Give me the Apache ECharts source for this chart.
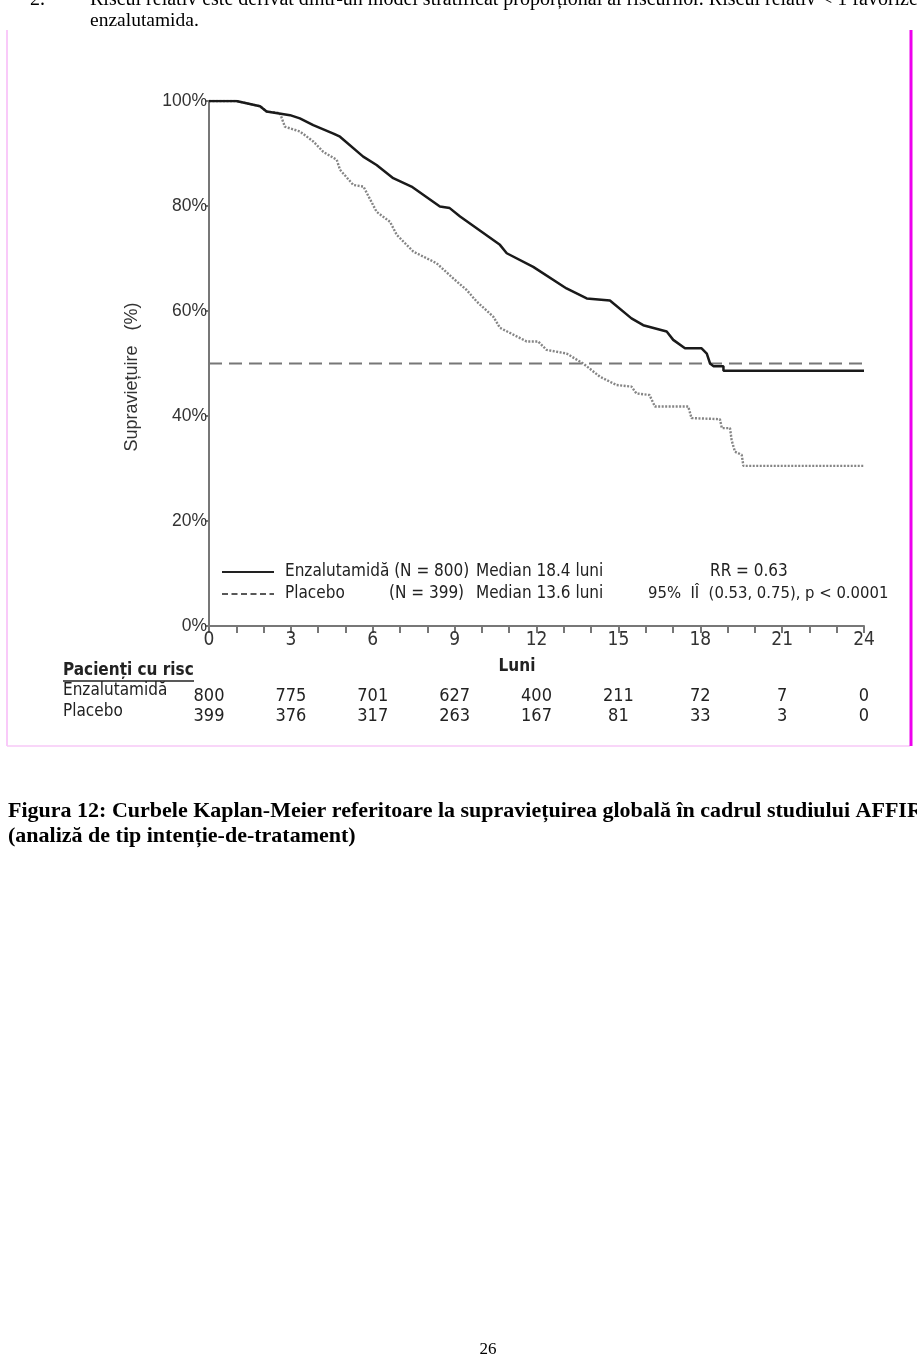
<!DOCTYPE html>
<html>
<head>
<meta charset="utf-8">
<script src="https://cdn.jsdelivr.net/npm/echarts@6/dist/echarts.min.js"></script>
<style>
  html, body { margin: 0; padding: 0; background: #fff; }
  #main { width: 917px; height: 1365px; }
</style>
</head>
<body>
<div id="main"></div>
<script>
// months / survival (%)
const enzaMonths = [0, 1.0, 1.87, 2.11, 2.97, 3.33, 3.82, 4.56, 4.8, 5.65, 6.14, 6.75, 7.42, 8.46, 8.82, 9.2, 10.66, 10.91, 11.88, 13.1, 13.84, 14.69, 15.48, 15.91, 16.77, 17.01, 17.44, 18.05, 18.24, 18.36, 18.48, 18.85, 18.85, 24.0];
const enzaSurv = [100, 100, 99.0, 98.0, 97.3, 96.7, 95.4, 93.8, 93.2, 89.4, 87.8, 85.3, 83.7, 79.9, 79.6, 78.0, 72.6, 71.0, 68.4, 64.3, 62.4, 62.0, 58.6, 57.3, 56.1, 54.5, 52.9, 52.9, 51.9, 50.0, 49.5, 49.5, 48.6, 48.6];

const placMonths = [0, 1.0, 1.87, 2.11, 2.6, 2.78, 3.33, 3.82, 4.19, 4.68, 4.8, 5.29, 5.66, 6.14, 6.63, 6.88, 7.49, 8.34, 8.95, 9.44, 9.81, 10.42, 10.66, 11.64, 12.06, 12.37, 13.1, 13.71, 14.32, 14.93, 15.48, 15.66, 16.14, 16.34, 17.56, 17.68, 18.72, 18.79, 19.09, 19.15, 19.27, 19.52, 19.58, 24.0];
const placSurv = [100, 100, 99.0, 98.0, 97.7, 95.1, 94.2, 92.3, 90.3, 88.8, 86.9, 84.0, 83.7, 78.9, 77.0, 74.5, 71.3, 69.1, 66.2, 64.0, 61.8, 58.9, 56.8, 54.2, 54.2, 52.6, 51.9, 50.0, 47.5, 45.9, 45.6, 44.3, 44.0, 41.8, 41.8, 39.6, 39.4, 37.7, 37.7, 35.4, 33.2, 32.6, 30.5, 30.5];

const medianLine = 50;

const riskMonths = [0, 3, 6, 9, 12, 15, 18, 21, 24];
const riskEnza = [800, 775, 701, 627, 400, 211, 72, 7, 0];
const riskPlac = [399, 376, 317, 263, 167, 81, 33, 3, 0];

const narrow = '"Liberation Sans Narrow", "DejaVu Sans Condensed", Arial, sans-serif';
const sans = '"Liberation Sans", Arial, sans-serif';
const serif = '"Liberation Serif", "Times New Roman", serif';

let myChart = echarts.init(document.getElementById('main'), null, { renderer: 'canvas' });

function pairs(xs, ys) {
  return xs.map(function (x, i) { return [x, ys[i]]; });
}

myChart.setOption({
  backgroundColor: '#fff',
  animation: false,
  grid: { left: 209, right: 53, top: 101, bottom: 739, containLabel: false },
  xAxis: {
    type: 'value',
    min: 0,
    max: 24,
    interval: 3,
    axisLine: { onZero: false, lineStyle: { color: '#777', width: 2 } },
    axisTick: { show: true, length: 7, lineStyle: { color: '#777', width: 2 } },
    minorTick: { show: true, splitNumber: 3, length: 7, lineStyle: { color: '#777', width: 2 } },
    axisLabel: { color: '#333', fontSize: 19, fontFamily: narrow, margin: 5 },
    splitLine: { show: false }
  },
  yAxis: {
    type: 'value',
    min: 0,
    max: 100,
    interval: 20,
    axisLine: { show: true, lineStyle: { color: '#777', width: 2 } },
    axisTick: { show: true, length: 4, lineStyle: { color: '#777', width: 2 } },
    axisLabel: { color: '#333', fontSize: 17.5, fontFamily: sans, margin: 2, formatter: '{value}%' },
    splitLine: { show: false }
  },
  series: [
    {
      name: 'Median',
      type: 'line',
      data: [[0, medianLine], [24, medianLine]],
      symbol: 'none',
      silent: true,
      lineStyle: { color: '#777', width: 2, type: [13, 7] },
      z: 1
    },
    {
      name: 'Placebo',
      type: 'line',
      data: pairs(placMonths, placSurv),
      symbol: 'none',
      lineStyle: { color: '#858585', width: 2.4, type: [2, 1.5] },
      z: 2
    },
    {
      name: 'Enzalutamidă',
      type: 'line',
      data: pairs(enzaMonths, enzaSurv),
      symbol: 'none',
      lineStyle: { color: '#1a1a1a', width: 2.5 },
      z: 3
    }
  ]
});

// texts, legend, frame, risk table
let g = [];
function txt(x, y, s, opts) {
  g.push({
    type: 'text', x: x, y: y, silent: true,
    style: Object.assign({ text: s, fill: '#222', font: '17px ' + narrow, textVerticalAlign: 'middle' }, opts || {})
  });
}
function line(x1, y1, x2, y2, stroke, w, dash) {
  g.push({
    type: 'line', silent: true,
    shape: { x1: x1, y1: y1, x2: x2, y2: y2 },
    style: { stroke: stroke, lineWidth: w, lineDash: dash || null }
  });
}

// document text around the figure
txt(30, 0, '2.', { font: '20px ' + serif, fill: '#000' });
txt(90, 0, 'Riscul relativ este derivat dintr-un model stratificat proporțional al riscurilor. Riscul relativ < 1 favorizează', { font: '20px ' + serif, fill: '#000' });
txt(90, 21, 'enzalutamida.', { font: '19.5px ' + serif, fill: '#000' });

// frame
line(7, 30, 7, 746, '#f7b8f7', 1.5);
line(7, 746, 910, 746, '#f7c8f7', 1.5);
line(911, 30, 911, 746, '#ee00ee', 3);

// y axis name
g.push({
  type: 'text', x: 132, y: 377, rotation: Math.PI / 2, silent: true,
  style: { text: 'Supraviețuire   (%)', fill: '#333', font: '18px ' + sans, textAlign: 'center', textVerticalAlign: 'middle' }
});

// legend
line(222, 572, 274, 572, '#222', 1.8);
line(222, 594, 274, 594, '#222', 1.6, [6, 3.5]);
txt(285, 572, 'Enzalutamidă (N = 800)');
txt(285, 594, 'Placebo');
txt(389, 594, '(N = 399)');
txt(476, 572, 'Median 18.4 luni');
txt(476, 594, 'Median 13.6 luni');
txt(710, 572, 'RR = 0.63');
txt(648, 594, '95%  IÎ  (0.53, 0.75), p < 0.0001', { font: '16.5px ' + narrow });

// x axis name
txt(517, 667, 'Luni', { font: 'bold 17px ' + narrow, textAlign: 'center' });

// risk table
txt(63, 671, 'Pacienți cu risc', { font: 'bold 17px ' + narrow });
line(63, 681, 194, 681, '#222', 1.4);
txt(63, 691, 'Enzalutamidă', { font: '17px ' + narrow });
txt(63, 712, 'Placebo', { font: '17px ' + narrow });
riskMonths.forEach(function (m, i) {
  let px = myChart.convertToPixel({ xAxisIndex: 0 }, m);
  txt(px, 696, String(riskEnza[i]), { textAlign: 'center', font: '18px ' + narrow });
  txt(px, 716, String(riskPlac[i]), { textAlign: 'center', font: '18px ' + narrow });
});

// caption
txt(8, 811, 'Figura 12: Curbele Kaplan-Meier referitoare la supraviețuirea globală în cadrul studiului AFFIRM', { font: 'bold 22px ' + serif, fill: '#000' });
txt(8, 836, '(analiză de tip intenție-de-tratament)', { font: 'bold 22px ' + serif, fill: '#000' });

// page number
txt(488, 1350, '26', { font: '17px ' + serif, fill: '#000', textAlign: 'center' });

myChart.setOption({ graphic: g });
</script>
</body>
</html>
